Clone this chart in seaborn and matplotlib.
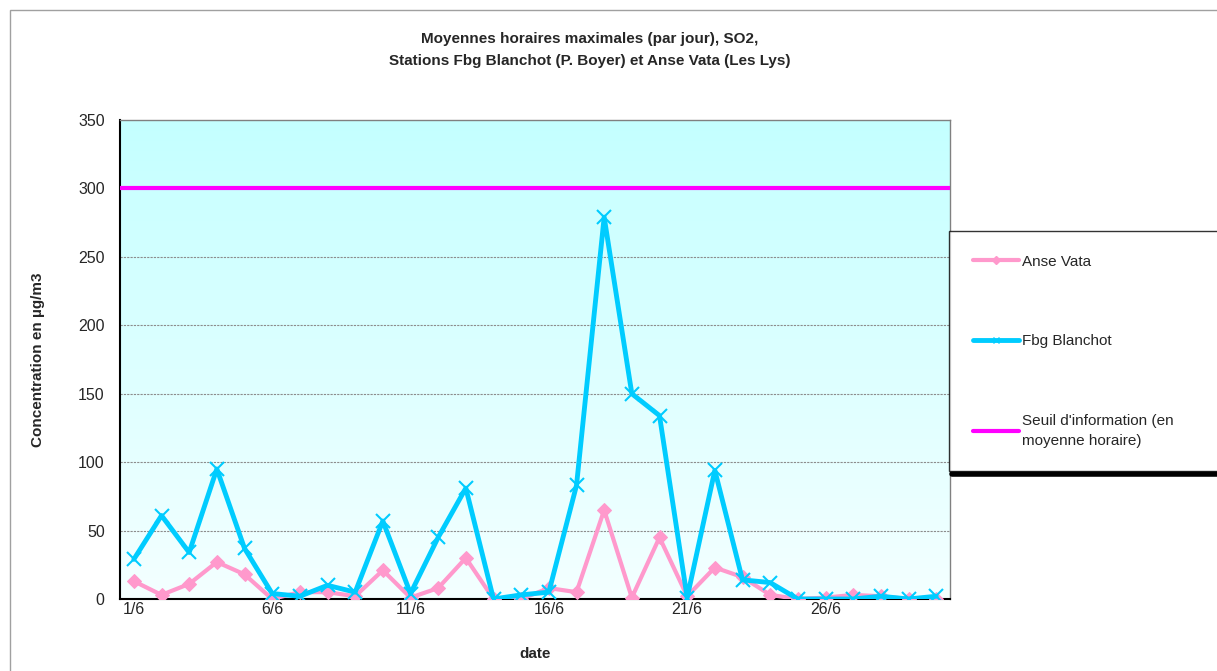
import numpy as np
import pandas as pd
import matplotlib
matplotlib.use("Agg")
import matplotlib.pyplot as plt
import seaborn as sns
from matplotlib.patches import Rectangle
from matplotlib.lines import Line2D
from matplotlib.colors import LinearSegmentedColormap

sns.set_style("white")
plt.rcParams['font.family'] = ['Liberation Sans', 'DejaVu Sans']

days = [f"{d}/6" for d in range(1, 31)]
anse_vata = [13, 3, 11, 27, 18, 0, 5, 5, 2, 21, 1, 8, 30, 0, 0, 8, 5, 65, 1, 45,
             2, 23, 16, 3, 0, 1, 3, 2, 0, 0]
fbg_blanchot = [29, 61, 34, 95, 37, 4, 2, 10, 5, 57, 4, 45, 81, 0, 3, 5, 83, 279, 150, 134,
                1, 94, 14, 12, 0, 0, 0, 2, 0, 2]
seuil = 300
label_days = ["1/6", "6/6", "11/6", "16/6", "21/6", "26/6"]

W, H = 1217, 671
fig = plt.figure(figsize=(W / 100, H / 100), dpi=100)
ax = fig.add_axes([120 / W, 1 - 599 / H, 830 / W, 479 / H])

idx = np.arange(len(days))
df = pd.DataFrame({"idx": np.concatenate([idx, idx]),
                   "val": anse_vata + fbg_blanchot,
                   "station": ["Anse Vata"] * len(days) + ["Fbg Blanchot"] * len(days)})

# gradient background
grad = np.linspace(0, 1, 256).reshape(-1, 1)
cmap = LinearSegmentedColormap.from_list("bg", ["#f4ffff", "#c4ffff"])
ax.imshow(grad, extent=[-0.5, 29.5, 0, 350], origin="lower", aspect="auto",
          cmap=cmap, zorder=0)

for v in range(50, 350, 50):
    ax.axhline(v, color="#8c8c8c", lw=0.8, ls=(0, (2, 1)), zorder=1)

pink = "#ff99cc"
blue = "#00ccff"
magenta = "#ff00ff"

sns.lineplot(data=df[df.station == "Anse Vata"], x="idx", y="val", ax=ax, color=pink,
             lw=3, marker="D", markersize=7, markeredgecolor=pink, zorder=3, legend=False)
sns.lineplot(data=df[df.station == "Fbg Blanchot"], x="idx", y="val", ax=ax, color=blue,
             lw=3.5, marker="x", markersize=10, markeredgewidth=1.5, markeredgecolor=blue,
             zorder=4, legend=False)
ax.axhline(seuil, color=magenta, lw=3, zorder=5)

ax.set_xlim(-0.5, 29.5)
ax.set_ylim(0, 350)
ax.set_yticks(range(0, 351, 50))
ax.set_yticklabels([str(v) for v in range(0, 351, 50)], fontsize=11.5)
ax.set_xticks(np.arange(-0.5, 30, 5))
ax.set_xticklabels([])
ax.set_xticks(np.arange(0, 30, 5), minor=True)
ax.set_xticklabels(label_days, minor=True, fontsize=11.5)
ax.tick_params(axis="x", which="major", length=5, direction="out", color="#808080")
ax.tick_params(axis="x", which="minor", length=0, pad=2)
ax.tick_params(axis="y", length=5, direction="out", pad=6)
ax.set_xlabel("date", fontsize=11, fontweight="bold", labelpad=22)
ax.set_ylabel("Concentration en µg/m3", fontsize=11, fontweight="bold", labelpad=24)

for s in ["left", "bottom"]:
    ax.spines[s].set_color("black")
    ax.spines[s].set_linewidth(1.5)
for s in ["top", "right"]:
    ax.spines[s].set_color("#808080")
    ax.spines[s].set_linewidth(1)

fig.text(590 / W, 1 - 50 / H,
         "Moyennes horaires maximales (par jour), SO2,\nStations Fbg Blanchot (P. Boyer) et Anse Vata (Les Lys)",
         ha="center", va="center", fontsize=11, fontweight="bold", linespacing=1.75)

# outer chart border
fig.patches.append(Rectangle((10 / W, -0.1), 1.2, 1 - 10 / H + 0.1, transform=fig.transFigure,
                             fill=False, edgecolor="#a0a0a0", lw=1))

handles = [Line2D([], [], color=pink, lw=3, marker="D", markersize=4),
           Line2D([], [], color=blue, lw=3.5, marker="x", markersize=5),
           Line2D([], [], color=magenta, lw=3)]
labels = ["Anse Vata", "Fbg Blanchot", "Seuil d'information (en\nmoyenne horaire)"]
leg = fig.legend(handles, labels, loc="upper left",
                 bbox_to_anchor=(949 / W, 1 - 231 / H - 0.01, (1240 - 949) / W, 0.01),
                 mode="expand", fontsize=11, frameon=True, fancybox=False, labelspacing=4.3,
                 handlelength=3, handletextpad=0.2, borderpad=1.55, borderaxespad=0)
leg.get_frame().set_edgecolor("black")
leg.get_frame().set_linewidth(1)
for t in leg.get_texts():
    t.set_linespacing(1.5)
fig.lines.append(Line2D([952 / W, 1.0], [1 - 474 / H, 1 - 474 / H], transform=fig.transFigure,
                        color="black", lw=4))

fig.savefig("out.png", dpi=100)
